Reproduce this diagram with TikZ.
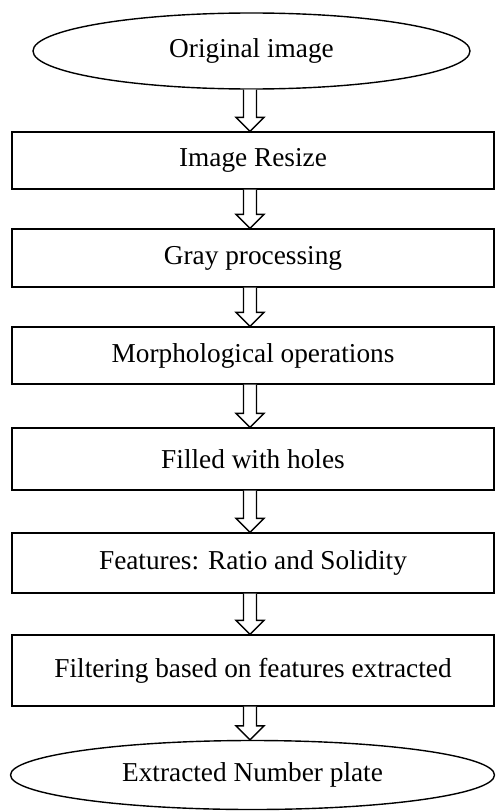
\documentclass[tikz,border=0pt]{standalone}
\usepackage{fontspec}
\setmainfont{Liberation Serif}
\usetikzlibrary{shapes.geometric,calc}
\tikzset{
  procbox/.style={draw, line width=1.4pt, rectangle, minimum width=482pt, inner sep=0pt, font=\fontsize{27.3}{32}\selectfont},
  termell/.style={draw, line width=1.4pt, ellipse, inner sep=0pt, font=\fontsize{27.3}{32}\selectfont},
  barrow/.style={draw, line width=1.4pt, line join=miter, fill=white}
}
\newcommand\blockarrow[2]{%
  \draw[barrow] let \p1=(#1.south), \p2=(#2.north) in
    (243.5pt,\y1) -- (243.5pt,\y2+14pt) -- (236pt,\y2+14pt) -- (250pt,\y2)
    -- (264pt,\y2+14pt) -- (256.5pt,\y2+14pt) -- (256.5pt,\y1);
}
\begin{document}
\begin{tikzpicture}[x=1pt,y=-1pt]
\useasboundingbox (0,0) rectangle (496,811);
\node[termell, minimum width=437pt, minimum height=76pt] (e1) at (251.5,51) {Original image};
\node[procbox, minimum height=57pt] (b1) at (253,160.5) {Image Resize};
\node[procbox, minimum height=58pt] (b2) at (253,258) {Gray processing};
\node[procbox, minimum height=57pt] (b3) at (253,355.5) {Morphological operations};
\node[procbox, minimum height=62pt] (b4) at (253,459) {Filled with holes};
\node[procbox, minimum height=60pt] (b5) at (253,563) {Features: Ratio and Solidity};
\node[procbox, minimum height=71pt] (b6) at (253,670.5) {Filtering based on features extracted};
\node[termell, minimum width=484pt, minimum height=69pt] (e2) at (252.5,775) {Extracted Number plate};
\blockarrow{e1}{b1}
\blockarrow{b1}{b2}
\blockarrow{b2}{b3}
\blockarrow{b3}{b4}
\blockarrow{b4}{b5}
\blockarrow{b5}{b6}
\blockarrow{b6}{e2}
\end{tikzpicture}
\end{document}
